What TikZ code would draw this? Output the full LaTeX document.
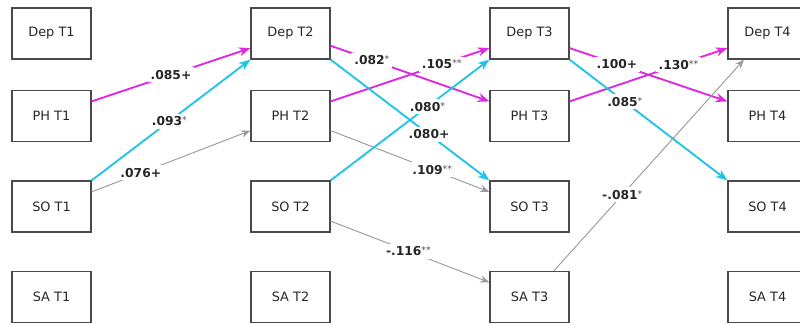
\documentclass[tikz,border=0pt]{standalone}
\usepackage{fontspec}
\setmainfont{DejaVu Sans}
\definecolor{magcol}{HTML}{E028E0}
\definecolor{cyancol}{HTML}{22C4E6}
\definecolor{graycol}{HTML}{9A9A9A}
\definecolor{boxcol}{HTML}{4A4A4A}
\definecolor{textcol}{HTML}{262626}
\usetikzlibrary{arrows.meta}

\newcommand{\sg}[1]{\raisebox{0.3ex}{\fontsize{8}{8}\selectfont\mdseries\color{textcol!80} #1}}

\tikzset{
  varbox/.style={draw=boxcol, line width=1pt, minimum width=2.37cm, minimum height=1.53cm,
    text=textcol, font=\fontsize{11}{13}\selectfont},
  coef/.style={fill=white, inner sep=2.5pt, text=textcol, font=\bfseries\fontsize{10.5}{12}\selectfont},
  magpath/.style={-{Stealth[length=3.5mm, width=2.7mm]}, magcol, line width=1.6pt},
  cyanpath/.style={-{Stealth[length=3.5mm, width=2.7mm]}, cyancol, line width=1.6pt},
  graypath/.style={-{Stealth[length=2.8mm, width=2.2mm]}, graycol, line width=0.8pt}
}

\begin{document}
\begin{tikzpicture}[x=0.03cm, y=-0.03cm]
\useasboundingbox (0,0) rectangle (800,324);

% === Wave 1 ===
\node[varbox] (dep1) at (51.5,33.5) {Dep T1};
\node[varbox] (ph1)  at (51.5,116)  {PH T1};
\node[varbox] (so1)  at (51.5,206.5) {SO T1};
\node[varbox] (sa1)  at (51.5,297)  {SA T1};

% === Wave 2 ===
\node[varbox] (dep2) at (290.5,33.5) {Dep T2};
\node[varbox] (ph2)  at (290.5,116)  {PH T2};
\node[varbox] (so2)  at (290.5,206.5) {SO T2};
\node[varbox] (sa2)  at (290.5,297)  {SA T2};

% === Wave 3 ===
\node[varbox] (dep3) at (529.5,33.5) {Dep T3};
\node[varbox] (ph3)  at (529.5,116)  {PH T3};
\node[varbox] (so3)  at (529.5,206.5) {SO T3};
\node[varbox] (sa3)  at (529.5,297)  {SA T3};

% === Wave 4 ===
\node[varbox] (dep4) at (767.5,33.5) {Dep T4};
\node[varbox] (ph4)  at (767.5,116)  {PH T4};
\node[varbox] (so4)  at (767.5,206.5) {SO T4};
\node[varbox] (sa4)  at (767.5,297)  {SA T4};

% === T1 -> T2 ===
\draw[magpath] (ph1.20) -- (dep2.200) node[coef, pos=0.5] {.085+};
\draw[cyanpath] (so1.north east) -- (dep2.south west) node[coef, pos=0.49] {.093\sg{*}};
\draw[graypath] (so1.20) -- (ph2.200) node[coef, pos=0.31] {.076+};

% === T2 -> T3 ===
\draw[magpath] (dep2.-17) -- (ph3.160) node[coef, pos=0.26] {.082\sg{*}};
\draw[magpath] (ph2.20) -- (dep3.200) node[coef, pos=0.7] {.105\sg{**}};
\draw[cyanpath] (dep2.south east) -- (so3.north west) node[coef, pos=0.62] {.080+};
\draw[cyanpath] (so2.north east) -- (dep3.south west) node[coef, pos=0.61] {.080\sg{*}};
\draw[graypath] (ph2.-20) -- (so3.160) node[coef, pos=0.64] {.109\sg{**}};
\draw[graypath] (so2.-20) -- (sa3.160) node[coef, pos=0.49] {-.116\sg{**}};

% === T3 -> T4 ===
\draw[magpath] (dep3.-20) -- (ph4.160) node[coef, pos=0.3] {.100+};
\draw[magpath] (ph3.20) -- (dep4.200) node[coef, pos=0.69] {.130\sg{**}};
\draw[cyanpath] (dep3.south east) -- (so4.north west) node[coef, pos=0.35] {.085\sg{*}};
\draw[graypath] (sa3.47) -- (dep4.228) node[coef, pos=0.36] {-.081\sg{*}};

\end{tikzpicture}
\end{document}
